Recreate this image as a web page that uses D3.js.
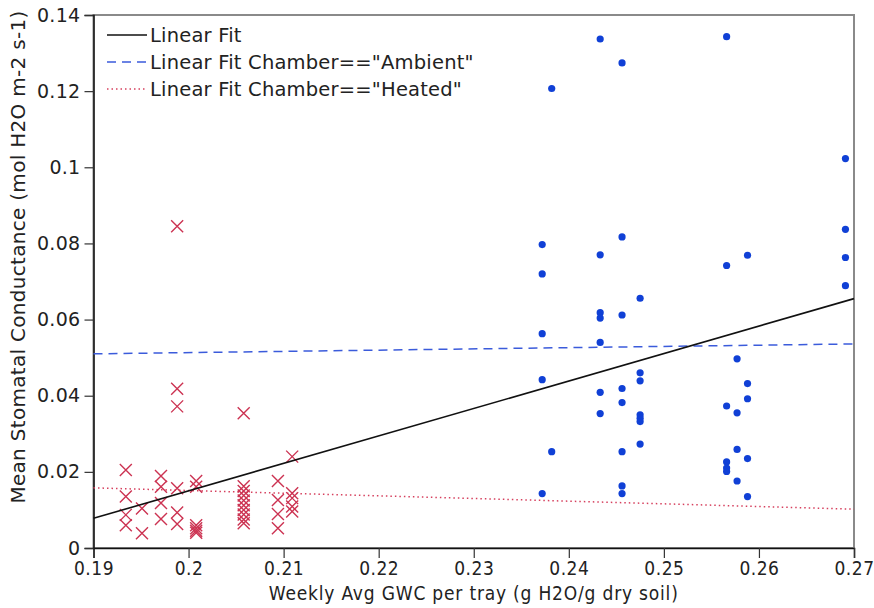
<!DOCTYPE html>
<html>
<head>
<meta charset="utf-8">
<script src="https://d3js.org/d3.v7.min.js"></script>
<style>
  body { margin: 0; background: #fff; }
  text { fill: #222; }
</style>
</head>
<body>
<div class="canvas"></div>
<script>
const width = 874;
const height = 608;

// heated chamber (red crosses)
const heatedGwc = [
  0.1934, 0.1934, 0.1934, 0.1934,
  0.1951, 0.1951,
  0.1971, 0.1971, 0.1971, 0.1971,
  0.1988, 0.1988, 0.1988, 0.1988, 0.1988, 0.1988,
  0.2008, 0.2008, 0.2008, 0.2008, 0.2008, 0.2008,
  0.2058, 0.2058, 0.2058, 0.2058, 0.2058, 0.2058, 0.2058, 0.2058, 0.2058, 0.2058,
  0.2094, 0.2094, 0.2094, 0.2094,
  0.2109, 0.2109, 0.2109, 0.2109, 0.2109
];
const heatedGs = [
  0.0205, 0.0135, 0.0087, 0.0060,
  0.0104, 0.0039,
  0.0189, 0.0161, 0.0118, 0.0076,
  0.0845, 0.0418, 0.0372, 0.0157, 0.0093, 0.0063,
  0.0176, 0.0161, 0.0060, 0.0052, 0.0045, 0.0040,
  0.0354, 0.0162, 0.0150, 0.0138, 0.0125, 0.0112, 0.0100, 0.0088, 0.0075, 0.0065,
  0.0176, 0.0126, 0.0089, 0.0052,
  0.0240, 0.0144, 0.0131, 0.0109, 0.0096
];

// ambient chamber (blue dots)
const ambientGwc = [
  0.2372, 0.2372, 0.2372, 0.2372, 0.2372,
  0.2382, 0.2382,
  0.2433, 0.2433, 0.2433, 0.2433, 0.2433, 0.2433, 0.2433,
  0.2456, 0.2456, 0.2456, 0.2456, 0.2456, 0.2456, 0.2456, 0.2456,
  0.2475, 0.2475, 0.2475, 0.2475, 0.2475, 0.2475, 0.2475,
  0.2566, 0.2566, 0.2566, 0.2566, 0.2566, 0.2566,
  0.2577, 0.2577, 0.2577, 0.2577,
  0.2588, 0.2588, 0.2588, 0.2588, 0.2588,
  0.2691, 0.2691, 0.2691, 0.2691
];
const ambientGs = [
  0.0797, 0.0720, 0.0563, 0.0442, 0.0143,
  0.1207, 0.0253,
  0.1337, 0.0770, 0.0618, 0.0604, 0.0540, 0.0409, 0.0353,
  0.1274, 0.0817, 0.0612, 0.0419, 0.0382, 0.0253, 0.0163, 0.0143,
  0.0656, 0.0460, 0.0439, 0.0350, 0.0341, 0.0332, 0.0273,
  0.1343, 0.0742, 0.0373, 0.0226, 0.0210, 0.0201,
  0.0497, 0.0355, 0.0259, 0.0176,
  0.0769, 0.0432, 0.0392, 0.0235, 0.0135,
  0.1023, 0.0837, 0.0763, 0.0689
];

// fit lines: value at x = 0.19 and x = 0.27
const fitX = [0.19, 0.27];
const fitAll = [0.0078, 0.0655];
const fitAmbient = [0.0510, 0.0536];
const fitHeated = [0.0158, 0.0102];

const xTicks = [0.19, 0.2, 0.21, 0.22, 0.23, 0.24, 0.25, 0.26, 0.27];
const yTicks = [0, 0.02, 0.04, 0.06, 0.08, 0.1, 0.12, 0.14];

const legendLabels = ['Linear Fit', 'Linear Fit Chamber=="Ambient"', 'Linear Fit Chamber=="Heated"'];

const svg = d3
  .select(".canvas")
  .append("svg")
  .attr("width", width)
  .attr("height", height);

// setup margins and dimensions
const margin = { top: 15, right: 20, bottom: 60, left: 93.5 };
const graphWidth = 854 - margin.left;
const graphHeight = height - margin.top - margin.bottom;

const graph = svg
  .append("g")
  .attr("transform", `translate(${margin.left}, ${margin.top})`);

const xScale = d3.scaleLinear().domain([0.19, 0.27]).range([0, graphWidth]);
const yScale = d3.scaleLinear().domain([0, 0.14]).range([graphHeight, 0]);

// frame: gray on top and right
graph.append("rect")
  .attr("x", 0).attr("y", 0)
  .attr("width", graphWidth).attr("height", graphHeight)
  .attr("fill", "none")
  .attr("stroke", "#8a8a8a")
  .attr("stroke-width", 2);

// axes
const xAxis = d3.axisBottom(xScale)
  .tickValues(xTicks)
  .tickSize(10)
  .tickFormat(d3.format("~g"));

const gx = graph.append("g")
  .attr("transform", `translate(0, ${graphHeight})`)
  .call(xAxis);
gx.selectAll("text")
  .attr("y", 14)
  .attr("dy", "0.71em")
  .style("font-family", "'DejaVu Sans Condensed', 'DejaVu Sans'")
  .style("font-size", "19px")
  .style("letter-spacing", "0.5px");

const yAxis = d3.axisLeft(yScale)
  .tickValues(yTicks)
  .tickSize(9)
  .tickFormat(d3.format("~g"));

const gy = graph.append("g").call(yAxis);
gy.selectAll("text")
  .attr("x", -13)
  .style("font-family", "'DejaVu Sans'")
  .style("font-size", "19px")
  .style("letter-spacing", "0.3px");

[gx, gy].forEach(g => {
  g.select(".domain").attr("stroke", "#111").attr("stroke-width", 1.5);
  g.selectAll(".tick line").attr("stroke", "#333").attr("stroke-width", 1.2);
  g.selectAll("text").attr("fill", "#222");
});

// axis titles
svg.append("text")
  .attr("x", margin.left + graphWidth / 2)
  .attr("y", 600)
  .attr("text-anchor", "middle")
  .style("font-family", "'DejaVu Sans Condensed', 'DejaVu Sans'")
  .style("font-size", "19px")
  .style("letter-spacing", "0.8px")
  .text("Weekly Avg GWC per tray (g H2O/g dry soil)");

svg.append("text")
  .attr("transform", `translate(25, 257) rotate(-90)`)
  .attr("text-anchor", "middle")
  .style("font-family", "'DejaVu Sans'")
  .style("font-size", "20px")
  .style("letter-spacing", "0.3px")
  .text("Mean Stomatal Conductance (mol H2O m-2 s-1)");

// fit lines
const line = d3.line()
  .x(d => xScale(d[0]))
  .y(d => yScale(d[1]));

graph.append("path")
  .datum(fitX.map((x, i) => [x, fitAmbient[i]]))
  .attr("d", line)
  .attr("fill", "none")
  .attr("stroke", "#3b5bdb")
  .attr("stroke-width", 1.5)
  .attr("stroke-dasharray", "9,6");

graph.append("path")
  .datum(fitX.map((x, i) => [x, fitHeated[i]]))
  .attr("d", line)
  .attr("fill", "none")
  .attr("stroke", "#d6405e")
  .attr("stroke-width", 1.5)
  .attr("stroke-dasharray", "1.5,3");

// heated crosses
const cross = 6;
graph.selectAll(".heated")
  .data(heatedGwc)
  .enter()
  .append("path")
  .attr("class", "heated")
  .attr("d", (d, i) => {
    const cx = xScale(d);
    const cy = yScale(heatedGs[i]);
    return `M${cx - cross},${cy - cross}L${cx + cross},${cy + cross}M${cx - cross},${cy + cross}L${cx + cross},${cy - cross}`;
  })
  .attr("stroke", "#cc3352")
  .attr("stroke-width", 1.4)
  .attr("fill", "none");

// ambient dots
graph.selectAll(".ambient")
  .data(ambientGwc)
  .enter()
  .append("circle")
  .attr("class", "ambient")
  .attr("cx", d => xScale(d))
  .attr("cy", (d, i) => yScale(ambientGs[i]))
  .attr("r", 3.6)
  .attr("fill", "#1040d6");

graph.append("path")
  .datum(fitX.map((x, i) => [x, fitAll[i]]))
  .attr("d", line)
  .attr("fill", "none")
  .attr("stroke", "#111")
  .attr("stroke-width", 1.6);

// legend
const legendStyles = [
  { stroke: "#111", dash: null },
  { stroke: "#3b5bdb", dash: "9,6" },
  { stroke: "#d6405e", dash: "1.5,3" }
];

const legend = svg.append("g").attr("transform", "translate(107, 35)");

legendLabels.forEach((label, i) => {
  const row = legend.append("g").attr("transform", `translate(0, ${i * 27})`);
  row.append("line")
    .attr("x1", 0).attr("x2", 40)
    .attr("stroke", legendStyles[i].stroke)
    .attr("stroke-width", 1.5)
    .attr("stroke-dasharray", legendStyles[i].dash);
  row.append("text")
    .attr("x", 43)
    .attr("dy", "0.35em")
    .style("font-family", "'DejaVu Sans'")
    .style("font-size", "19.5px")
    .style("letter-spacing", "0.2px")
    .text(label);
});
</script>
</body>
</html>
